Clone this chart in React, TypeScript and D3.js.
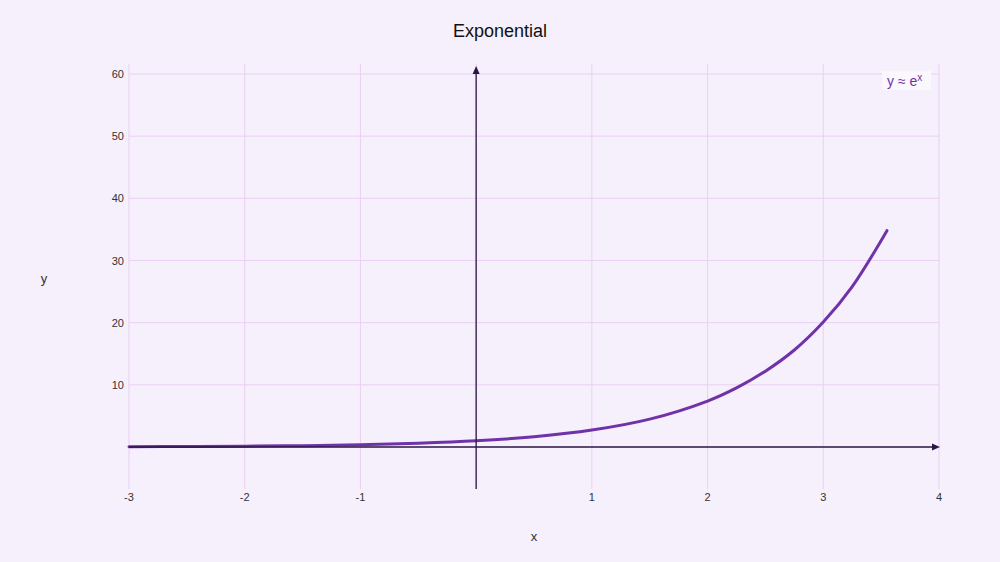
import React, { useRef, useEffect } from 'react'
import * as d3 from 'd3'

// values
const xValues = [-3, -2.5, -2, -1.5, -1, -0.5, 0, 0.5, 1, 1.5, 2, 2.25, 2.5, 2.75, 3, 3.25, 3.55]
const yValues = [0.05, 0.08, 0.14, 0.22, 0.37, 0.61, 1.0, 1.65, 2.72, 4.48, 7.39, 9.5, 12.2, 15.6, 20.1, 25.8, 34.8]

const xTicks = [-3, -2, -1, 0, 1, 2, 3, 4]
const yTicks = [10, 20, 30, 40, 50, 60]

const COLORS = {
  bg: '#f6effc',
  grid: '#ead0f2',
  curve: '#7032a8',
  axis: '#2a1545',
  text: '#333333',
  legendBg: '#fbf8fd'
}

const WIDTH = 1000
const HEIGHT = 562

export default function App() {
  const svgRef = useRef<SVGSVGElement>(null)

  useEffect(() => {
    if (!svgRef.current) return
    const svg = d3.select(svgRef.current)
    svg.selectAll('*').remove()

    const font = 'Liberation Sans, Arial, sans-serif'
    const x = d3.scaleLinear().domain([-3, 4]).range([129, 939])
    const y = d3.scaleLinear().domain([0, 60]).range([447, 74])
    const gridTop = 64
    const gridBottom = 489

    svg.append('rect').attr('width', WIDTH).attr('height', HEIGHT).attr('fill', COLORS.bg)

    // title
    svg.append('text')
      .attr('x', 500).attr('y', 37)
      .attr('text-anchor', 'middle')
      .style('font-family', font).style('font-size', '18px')
      .attr('fill', '#111')
      .text('Exponential')

    // grid
    const grid = svg.append('g')
    grid.selectAll('.vg').data(xTicks).enter().append('line')
      .attr('x1', d => x(d)).attr('x2', d => x(d))
      .attr('y1', gridTop).attr('y2', gridBottom)
      .attr('stroke', COLORS.grid).attr('stroke-width', 1)
    grid.selectAll('.hg').data(yTicks).enter().append('line')
      .attr('x1', x(-3)).attr('x2', x(4))
      .attr('y1', d => y(d)).attr('y2', d => y(d))
      .attr('stroke', COLORS.grid).attr('stroke-width', 1)

    // tick labels
    svg.append('g').selectAll('text').data(yTicks).enter().append('text')
      .attr('x', 124).attr('y', d => y(d) + 4)
      .attr('text-anchor', 'end')
      .style('font-family', font).style('font-size', '11px')
      .attr('fill', COLORS.text)
      .text(d => d)
    svg.append('g').selectAll('text').data(xTicks.filter(d => d !== 0)).enter().append('text')
      .attr('x', d => x(d)).attr('y', 501)
      .attr('text-anchor', 'middle')
      .style('font-family', font).style('font-size', '11px')
      .attr('fill', COLORS.text)
      .text(d => d)

    // axis titles
    svg.append('text').attr('x', 44).attr('y', 283)
      .attr('text-anchor', 'middle')
      .style('font-family', font).style('font-size', '13px')
      .attr('fill', COLORS.text).text('y')
    svg.append('text').attr('x', 534).attr('y', 541)
      .attr('text-anchor', 'middle')
      .style('font-family', font).style('font-size', '13px')
      .attr('fill', COLORS.text).text('x')

    // curve
    const points: [number, number][] = xValues.map((v, i) => [v, yValues[i]])
    const line = d3.line<[number, number]>()
      .x(d => x(d[0]))
      .y(d => y(d[1]))
      .curve(d3.curveCatmullRom)
    svg.append('path')
      .attr('d', line(points))
      .attr('fill', 'none')
      .attr('stroke', COLORS.curve)
      .attr('stroke-width', 3)
      .attr('stroke-linecap', 'round')

    // axes with arrows
    svg.append('line')
      .attr('x1', x(-3)).attr('x2', x(4) - 4)
      .attr('y1', y(0)).attr('y2', y(0))
      .attr('stroke', COLORS.axis).attr('stroke-width', 1.3)
    svg.append('path')
      .attr('d', `M${x(4) + 1},${y(0)} L${x(4) - 7},${y(0) - 3.5} L${x(4) - 7},${y(0) + 3.5} Z`)
      .attr('fill', COLORS.axis)
    svg.append('line')
      .attr('x1', x(0)).attr('x2', x(0))
      .attr('y1', gridBottom).attr('y2', 71)
      .attr('stroke', COLORS.axis).attr('stroke-width', 1.3)
    svg.append('path')
      .attr('d', `M${x(0)},66 L${x(0) - 3.5},74 L${x(0) + 3.5},74 Z`)
      .attr('fill', COLORS.axis)

    // legend
    svg.append('rect')
      .attr('x', 882).attr('y', 71).attr('width', 49).attr('height', 19)
      .attr('fill', COLORS.legendBg)
    const lt = svg.append('text')
      .attr('x', 887).attr('y', 86)
      .style('font-family', font).style('font-size', '14px')
      .attr('fill', COLORS.curve)
    lt.append('tspan').text('y ≈ e')
    lt.append('tspan').attr('dy', -5).style('font-size', '10px').text('x')
  }, [])

  return (
    <svg
      ref={svgRef}
      width={WIDTH}
      height={HEIGHT}
      style={{ position: 'absolute', left: 0, top: 0, display: 'block' }}
    />
  )
}
